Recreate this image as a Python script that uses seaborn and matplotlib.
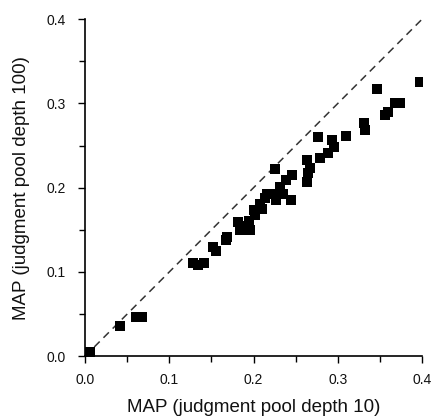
import matplotlib
matplotlib.use("Agg")
import matplotlib.pyplot as plt
import seaborn as sns
import pandas as pd
from matplotlib.ticker import MultipleLocator

# MAP per run, pool depth 10 (x) vs pool depth 100 (y)
map_depth10 = [0.006, 0.042, 0.061, 0.067, 0.128, 0.134, 0.141, 0.152, 0.155,
               0.167, 0.168, 0.182, 0.184, 0.192, 0.196, 0.194, 0.200, 0.202,
               0.208, 0.210, 0.214, 0.216, 0.226, 0.228, 0.227, 0.231, 0.235,
               0.239, 0.245, 0.246, 0.263, 0.264, 0.265, 0.267, 0.277, 0.279,
               0.288, 0.293, 0.296, 0.310, 0.331, 0.332, 0.347, 0.356, 0.360,
               0.368, 0.374, 0.398]
map_depth100 = [0.005, 0.036, 0.047, 0.047, 0.110, 0.108, 0.111, 0.130, 0.125,
                0.138, 0.142, 0.159, 0.150, 0.154, 0.150, 0.161, 0.173, 0.167,
                0.181, 0.175, 0.188, 0.193, 0.222, 0.193, 0.185, 0.201, 0.193,
                0.209, 0.185, 0.215, 0.233, 0.207, 0.217, 0.223, 0.260, 0.235,
                0.241, 0.256, 0.248, 0.261, 0.277, 0.268, 0.317, 0.286, 0.290,
                0.300, 0.300, 0.326]

df = pd.DataFrame({"depth10": map_depth10, "depth100": map_depth100})

sns.set_style("ticks")
plt.rcParams["font.family"] = ["Liberation Sans", "DejaVu Sans"]

fig, ax = plt.subplots(figsize=(4.32, 4.17), dpi=100)
fig.subplots_adjust(left=0.197, right=0.977, bottom=0.146, top=0.954)

ax.plot([0, 0.4], [0, 0.4], color="#333333", linestyle=(0, (5, 3.5)), linewidth=1.1, zorder=1)
sns.scatterplot(data=df, x="depth10", y="depth100", marker="s", s=62,
                color="black", edgecolor="black", linewidth=0, ax=ax, zorder=2)

ax.set_xlim(0, 0.4)
ax.set_ylim(0, 0.4)
ax.xaxis.set_major_locator(MultipleLocator(0.1))
ax.yaxis.set_major_locator(MultipleLocator(0.1))
ax.xaxis.set_minor_locator(MultipleLocator(0.05))
ax.yaxis.set_minor_locator(MultipleLocator(0.05))
ax.xaxis.set_major_formatter(lambda v, p: f"{v:.1f}")
ax.yaxis.set_major_formatter(lambda v, p: f"{v:.1f}")
ax.tick_params(which="major", direction="out", length=5, width=1, labelsize=10,
               color="black", labelcolor="#111111")
ax.tick_params(axis="x", which="major", pad=7)
ax.tick_params(axis="y", which="major", pad=9)
ax.tick_params(which="minor", direction="out", length=4.5, width=1, color="black")
for side in ["top", "right"]:
    ax.spines[side].set_visible(False)
for side in ["left", "bottom"]:
    ax.spines[side].set_linewidth(1.2)
    ax.spines[side].set_color("black")

ax.set_xlabel("MAP (judgment pool depth 10)", fontsize=13.5, labelpad=9, color="#111111")
ax.set_ylabel("MAP (judgment pool depth 100)", fontsize=13.5, labelpad=12, color="#111111")

plt.savefig("out.png", dpi=100)
plt.close()
